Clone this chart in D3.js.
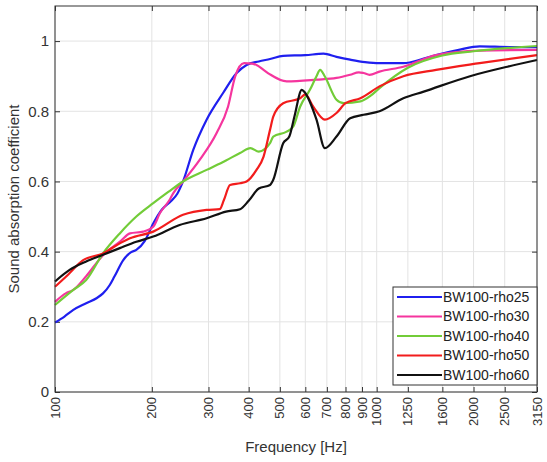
<!DOCTYPE html>
<html>
<head>
    <title>Sound absorption coefficient</title>
    <script src="https://d3js.org/d3.v7.min.js"></script>
    <style>
        html, body {
            margin: 0;
            padding: 0;
            background: #fff;
            font-family: "Liberation Sans", Arial, sans-serif;
        }
        svg {
            display: block;
            overflow: visible;
        }
        .grid line {
            stroke: #e3e3e3;
            stroke-width: 1px;
        }
    </style>
</head>
<body>
<div id="chart"></div>
<script>
    // tick values
    const xTicks = [100, 200, 300, 400, 500, 600, 700, 800, 900, 1000, 1250, 1600, 2000, 2500, 3150];
    const yTicks = [0, 0.2, 0.4, 0.6, 0.8, 1];

    const seriesNames = ['BW100-rho25', 'BW100-rho30', 'BW100-rho40', 'BW100-rho50', 'BW100-rho60'];

    // [frequency Hz, absorption coefficient]
    const rho25 = [[100,0.198],[107,0.215],[114,0.234],[125,0.253],[135,0.268],[141,0.281],[148,0.305],[153,0.329],
        [163,0.376],[172,0.398],[179,0.405],[190,0.43],[202,0.48],[215,0.52],[230,0.545],[240,0.565],[250,0.6],
        [269,0.69],[296,0.776],[333,0.852],[367,0.909],[394,0.932],[430,0.942],[466,0.949],[512,0.958],[600,0.96],
        [683,0.964],[750,0.955],[827,0.947],[920,0.94],[1020,0.937],[1210,0.937],[1400,0.95],[1530,0.96],
        [1800,0.975],[2090,0.985],[2600,0.983],[3150,0.983]];

    const rho30 = [[100,0.257],[108,0.281],[114,0.291],[125,0.33],[141,0.39],[160,0.43],[171,0.452],[188,0.457],
        [202,0.471],[212,0.51],[227,0.547],[233,0.566],[250,0.6],[282,0.662],[318,0.738],[345,0.813],[363,0.899],
        [387,0.937],[410,0.936],[423,0.932],[445,0.918],[466,0.905],[525,0.885],[650,0.89],[750,0.895],[827,0.904],
        [880,0.911],[910,0.909],[950,0.904],[1020,0.913],[1210,0.927],[1530,0.96],[2090,0.973],[3150,0.975]];

    const rho40 = [[100,0.248],[114,0.291],[125,0.319],[141,0.395],[159,0.452],[179,0.5],[202,0.538],[225,0.57],
        [250,0.6],[296,0.633],[340,0.66],[376,0.681],[405,0.695],[430,0.685],[466,0.709],[477,0.728],[525,0.742],
        [550,0.756],[578,0.813],[620,0.861],[650,0.9],[667,0.918],[690,0.899],[750,0.833],[790,0.823],[890,0.828],
        [960,0.845],[1020,0.866],[1250,0.924],[1600,0.959],[2000,0.971],[3150,0.986]];

    const rho50 = [[100,0.3],[110,0.335],[122,0.375],[141,0.395],[160,0.425],[171,0.438],[202,0.457],[250,0.505],
        [296,0.519],[325,0.521],[335,0.547],[350,0.59],[376,0.595],[394,0.6],[423,0.633],[445,0.671],[466,0.747],
        [477,0.785],[512,0.823],[578,0.837],[600,0.848],[635,0.813],[690,0.776],[750,0.795],[800,0.823],[890,0.837],
        [1020,0.871],[1210,0.9],[1530,0.918],[2090,0.937],[3150,0.96]];

    const rho60 = [[100,0.315],[111,0.348],[125,0.372],[141,0.391],[159,0.41],[179,0.428],[202,0.443],[244,0.476],
        [296,0.495],[340,0.514],[376,0.521],[400,0.545],[430,0.58],[466,0.59],[477,0.605],[512,0.709],[535,0.728],
        [555,0.785],[585,0.861],[595,0.856],[650,0.776],[690,0.695],[750,0.728],[827,0.78],[910,0.79],[1020,0.8],
        [1210,0.837],[1400,0.856],[1950,0.9],[2550,0.927],[3150,0.946]];

    const seriesData = [rho25, rho30, rho40, rho50, rho60];
    const colors = ['#1f1fef', '#f5359e', '#72cc38', '#f21c1c', '#111111'];

    const width = 547;
    const height = 462;
    const margin = { top: 6, right: 10, bottom: 70, left: 55 };
    const innerWidth = width - margin.left - margin.right;
    const innerHeight = height - margin.top - margin.bottom;

    const svg = d3.select('#chart').append('svg')
        .attr('width', width)
        .attr('height', height);

    const xScale = d3.scaleLog()
        .domain([100, 3150])
        .range([0, innerWidth]);

    const yScale = d3.scaleLinear()
        .domain([0, 1.1])
        .range([innerHeight, 0]);

    const g = svg.append('g')
        .attr('transform', `translate(${margin.left},${margin.top})`);

    // grid
    const grid = g.append('g').attr('class', 'grid');
    grid.selectAll('.gx').data(xTicks).enter().append('line')
        .attr('x1', d => xScale(d)).attr('x2', d => xScale(d))
        .attr('y1', 0).attr('y2', innerHeight);
    grid.selectAll('.gy').data(yTicks).enter().append('line')
        .attr('x1', 0).attr('x2', innerWidth)
        .attr('y1', d => yScale(d)).attr('y2', d => yScale(d));

    // inner tick marks on all four sides (MATLAB style), labels drawn separately
    const addTicks = (axis, transform) => {
        const ag = g.append('g').attr('transform', transform).call(axis);
        ag.selectAll('text').remove();
        ag.selectAll('.domain').remove();
        ag.selectAll('line').attr('stroke', '#333');
    };
    addTicks(d3.axisBottom(xScale).tickValues(xTicks).tickSizeInner(-5).tickSizeOuter(0), `translate(0,${innerHeight})`);
    addTicks(d3.axisTop(xScale).tickValues(xTicks).tickSizeInner(-5).tickSizeOuter(0), 'translate(0,0)');
    addTicks(d3.axisLeft(yScale).tickValues(yTicks).tickSizeInner(-5).tickSizeOuter(0), 'translate(0,0)');
    addTicks(d3.axisRight(yScale).tickValues(yTicks).tickSizeInner(-5).tickSizeOuter(0), `translate(${innerWidth},0)`);

    // tick labels
    g.selectAll('.xlab').data(xTicks).enter().append('text')
        .attr('class', 'xlab')
        .attr('transform', d => `translate(${xScale(d)},${innerHeight + 5}) rotate(-90)`)
        .attr('dy', '0.35em')
        .attr('text-anchor', 'end')
        .attr('font-size', 13)
        .attr('fill', '#333')
        .text(d => d);

    g.selectAll('.ylab').data(yTicks).enter().append('text')
        .attr('class', 'ylab')
        .attr('x', -6)
        .attr('y', d => yScale(d))
        .attr('dy', '0.35em')
        .attr('text-anchor', 'end')
        .attr('font-size', 15)
        .attr('fill', '#333')
        .text(d3.format('~g'));

    // series
    const line = d3.line()
        .x(d => xScale(d[0]))
        .y(d => yScale(d[1]))
        .curve(d3.curveMonotoneX);

    g.selectAll('.series').data(seriesData).enter().append('path')
        .attr('class', 'series')
        .attr('fill', 'none')
        .attr('stroke', (d, i) => colors[i])
        .attr('stroke-width', 2.2)
        .attr('stroke-linejoin', 'round')
        .attr('d', line);

    // frame
    g.append('rect')
        .attr('width', innerWidth)
        .attr('height', innerHeight)
        .attr('fill', 'none')
        .attr('stroke', '#333')
        .attr('stroke-width', 1);

    // axis labels
    svg.append('text')
        .attr('x', margin.left + innerWidth / 2)
        .attr('y', 452)
        .attr('text-anchor', 'middle')
        .attr('font-size', 15)
        .attr('fill', '#333')
        .text('Frequency [Hz]');

    svg.append('text')
        .attr('transform', 'rotate(-90)')
        .attr('x', -199)
        .attr('y', 19)
        .attr('text-anchor', 'middle')
        .attr('font-size', 15)
        .attr('fill', '#333')
        .text('Sound absorption coefficient');

    // legend
    const legend = svg.append('g')
        .attr('transform', 'translate(393,287)');

    legend.append('rect')
        .attr('width', 144)
        .attr('height', 98)
        .attr('fill', '#fff')
        .attr('stroke', '#333');

    const legendItem = legend.selectAll('.legend-item')
        .data(seriesNames)
        .enter().append('g')
            .attr('class', 'legend-item')
            .attr('transform', (d, i) => `translate(0, ${10 + i * 19.5})`);

    legendItem.append('line')
        .attr('x1', 4).attr('x2', 49)
        .attr('stroke', (d, i) => colors[i])
        .attr('stroke-width', 2.2);

    legendItem.append('text')
        .attr('x', 50)
        .attr('dy', '0.35em')
        .attr('font-size', 14)
        .attr('fill', '#222')
        .text(d => d);
</script>
</body>
</html>
